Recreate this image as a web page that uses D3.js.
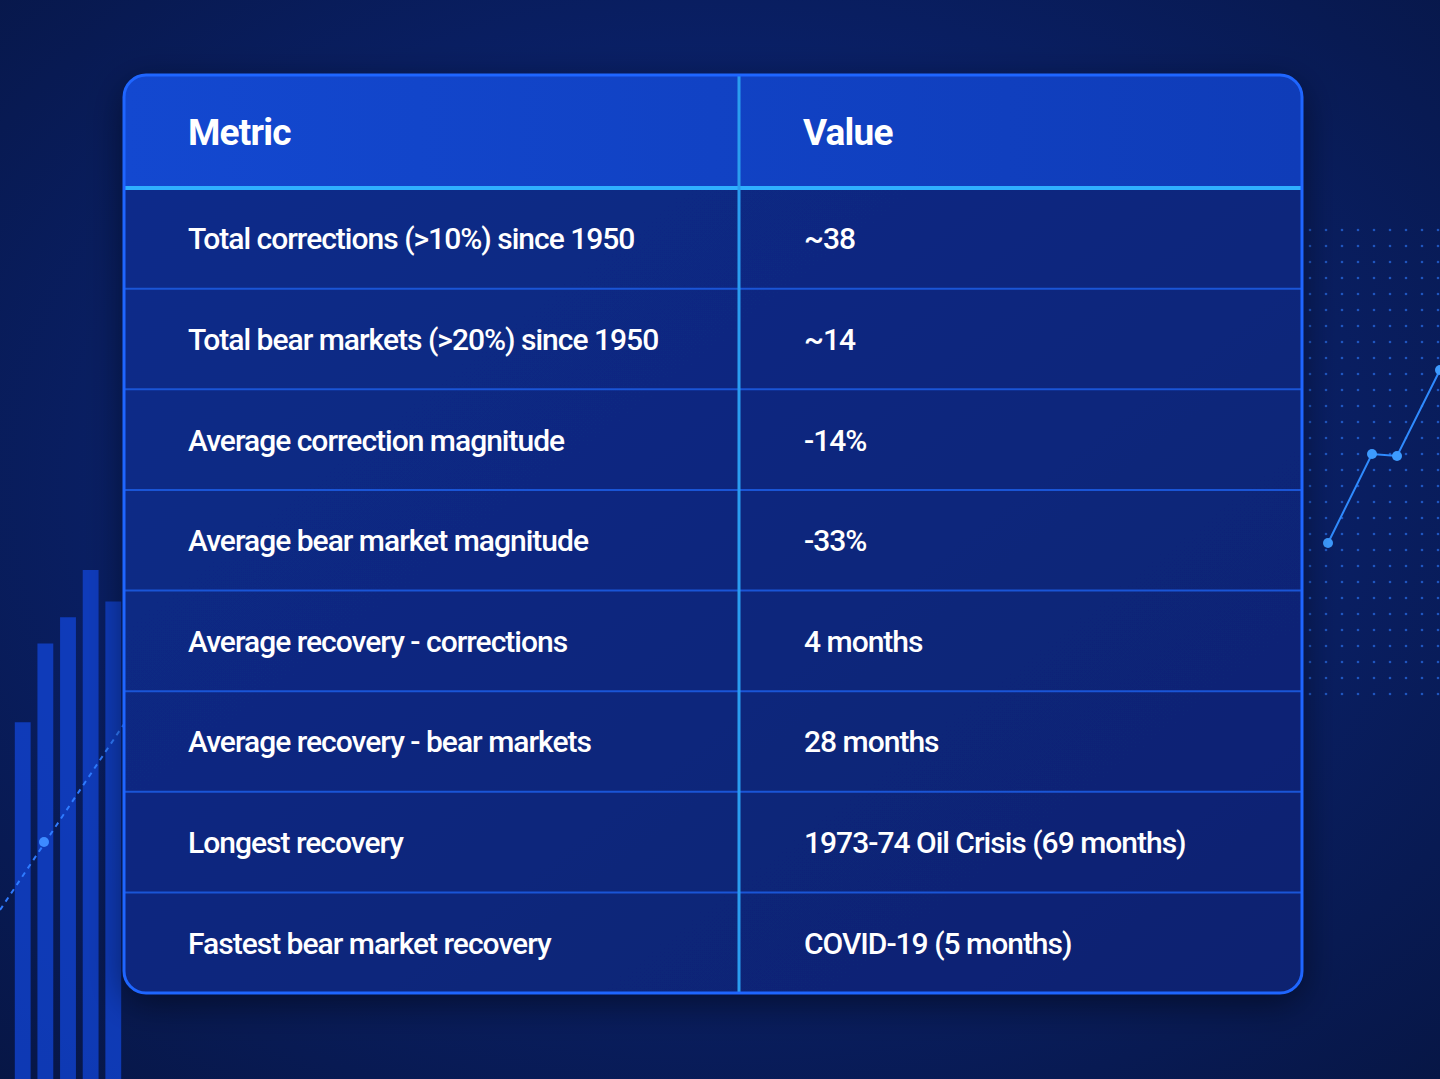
<!DOCTYPE html>
<html><head><meta charset="utf-8">
<script src="https://cdn.jsdelivr.net/npm/d3@7"></script>
<style>body{margin:0;background:#0a1a4c;overflow:hidden}</style>
</head><body>
<script>
const headers = ["Metric", "Value"];
const metrics = ["Total corrections (>10%) since 1950", "Total bear markets (>20%) since 1950",
  "Average correction magnitude", "Average bear market magnitude", "Average recovery - corrections",
  "Average recovery - bear markets", "Longest recovery", "Fastest bear market recovery"];
const values = ["~38", "~14", "-14%", "-33%", "4 months", "28 months",
  "1973-74 Oil Crisis (69 months)", "COVID-19 (5 months)"];
const barHeights = [55, 130, 155, 200, 170];
const dots = [[1328, 543], [1372, 454], [1397, 456], [1440, 370]];

const w = 1440, h = 1079;
const svg = d3.select("body").append("svg").attr("width", w).attr("height", h);
const defs = svg.append("defs");

const bg = defs.append("radialGradient").attr("id", "bg").attr("cx", "50%").attr("cy", "45%").attr("r", "75%");
bg.append("stop").attr("offset", "0%").attr("stop-color", "#0c2a8a");
bg.append("stop").attr("offset", "100%").attr("stop-color", "#071645");
svg.append("rect").attr("width", w).attr("height", h).attr("fill", "url(#bg)");

// decorative bars bottom-left
const bx = d3.scaleBand().domain(d3.range(barHeights.length)).range([8, 128]).padding(0.3);
svg.selectAll(".bar").data(barHeights).enter().append("rect")
  .attr("x", (d, i) => bx(i)).attr("y", d => 780 - d * 1.05)
  .attr("width", bx.bandwidth()).attr("height", d => d * 1.05 + 300)
  .attr("fill", "#1246d8").attr("opacity", 0.75);
svg.append("line").attr("x1", 0).attr("y1", 910).attr("x2", 130).attr("y2", 715)
  .attr("stroke", "#2f7bff").attr("stroke-width", 2).attr("stroke-dasharray", "5,5");
svg.append("circle").attr("cx", 44).attr("cy", 842).attr("r", 5).attr("fill", "#3d8bff");

// dotted grid right
const gx = d3.range(1310, 1440, 16), gy = d3.range(230, 700, 16);
gx.forEach(x => gy.forEach(yy => {
  svg.append("circle").attr("cx", x).attr("cy", yy).attr("r", 1.3)
    .attr("fill", "#2f7bff").attr("opacity", 0.6);
}));
svg.append("path").datum(dots).attr("d", d3.line()).attr("fill", "none")
  .attr("stroke", "#2f8bff").attr("stroke-width", 2);
svg.selectAll(".dot").data(dots).enter().append("circle")
  .attr("cx", d => d[0]).attr("cy", d => d[1]).attr("r", 5).attr("fill", "#3d9bff");

// table
const x0 = 124, x1 = 1302, tTop = 75, headBottom = 188, tBottom = 993, colX = 739;
const y = d3.scaleBand().domain(metrics).range([headBottom, tBottom]);

const shadow = defs.append("filter").attr("id", "sh").attr("x", "-10%").attr("y", "-10%").attr("width", "120%").attr("height", "120%");
shadow.append("feDropShadow").attr("dx", 0).attr("dy", 10).attr("stdDeviation", 18).attr("flood-color", "#000").attr("flood-opacity", 0.5);
const tb = defs.append("linearGradient").attr("id", "tb").attr("x1", 0).attr("y1", 0).attr("x2", 1).attr("y2", 1);
tb.append("stop").attr("offset", "0%").attr("stop-color", "#0b2c8c");
tb.append("stop").attr("offset", "100%").attr("stop-color", "#0a2270");
const hd = defs.append("linearGradient").attr("id", "hd").attr("x1", 0).attr("y1", 0).attr("x2", 1).attr("y2", 0);
hd.append("stop").attr("offset", "0%").attr("stop-color", "#1348d0");
hd.append("stop").attr("offset", "100%").attr("stop-color", "#0f3cb8");
defs.append("clipPath").attr("id", "clip").append("rect")
  .attr("x", x0).attr("y", tTop).attr("width", x1 - x0).attr("height", tBottom - tTop).attr("rx", 22);

svg.append("rect").attr("x", x0).attr("y", tTop).attr("width", x1 - x0).attr("height", tBottom - tTop)
  .attr("rx", 22).attr("fill", "url(#tb)").attr("filter", "url(#sh)");
const g = svg.append("g").attr("clip-path", "url(#clip)");
g.append("rect").attr("x", x0).attr("y", tTop).attr("width", x1 - x0).attr("height", headBottom - tTop).attr("fill", "url(#hd)");

g.selectAll(".sep").data(metrics.slice(1)).enter().append("line")
  .attr("x1", x0).attr("x2", x1).attr("y1", d => y(d)).attr("y2", d => y(d))
  .attr("stroke", "#1a55d6").attr("stroke-width", 2);
g.append("line").attr("x1", x0).attr("x2", x1).attr("y1", headBottom).attr("y2", headBottom)
  .attr("stroke", "#2fb0ff").attr("stroke-width", 4);
g.append("line").attr("x1", colX).attr("x2", colX).attr("y1", tTop).attr("y2", tBottom)
  .attr("stroke", "#2a9df0").attr("stroke-width", 3);
svg.append("rect").attr("x", x0).attr("y", tTop).attr("width", x1 - x0).attr("height", tBottom - tTop)
  .attr("rx", 22).attr("fill", "none").attr("stroke", "#1f66ff").attr("stroke-width", 3);

const font = "Roboto, 'Noto Sans', sans-serif";
svg.selectAll(".hdr").data(headers).enter().append("text")
  .attr("x", (d, i) => i ? 803 : 188).attr("y", (tTop + headBottom) / 2 + 13)
  .attr("fill", "#fff").attr("font-family", font).attr("font-weight", 700).attr("font-size", 37)
  .attr("letter-spacing", -0.8).text(d => d);

const rowY = d => y(d) + y.bandwidth() / 2 + 11;
svg.selectAll(".m").data(metrics).enter().append("text")
  .attr("x", 188).attr("y", rowY).attr("fill", "#fff").attr("font-family", font)
  .attr("font-weight", 500).attr("font-size", 30).attr("letter-spacing", -1).text(d => d);
svg.selectAll(".v").data(values).enter().append("text")
  .attr("x", 804).attr("y", (d, i) => rowY(metrics[i])).attr("fill", "#fff").attr("font-family", font)
  .attr("font-weight", 500).attr("font-size", 30).attr("letter-spacing", -1).text(d => d);
</script>
</body></html>
